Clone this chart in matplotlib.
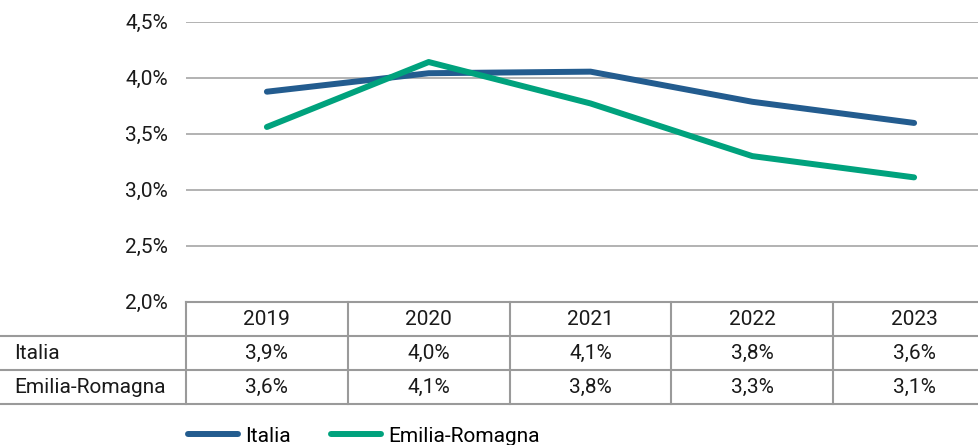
import matplotlib.pyplot as plt
from matplotlib.lines import Line2D

plt.rcParams['font.family'] = ['Roboto', 'DejaVu Sans']

years = ['2019', '2020', '2021', '2022', '2023']
italia = [3.875, 4.04, 4.054, 3.785, 3.596]
emilia = [3.56, 4.14, 3.77, 3.30, 3.11]
series_names = ['Italia', 'Emilia-Romagna']
yticks = [2.0, 2.5, 3.0, 3.5, 4.0, 4.5]

col_italia = '#235c8f'
col_emilia = '#00a27d'
grid_col = '#a6a6a6'
tab_col = '#9a9a9a'
fs = 15


def pct(v):
    return f'{v:.1f}%'.replace('.', ',')


fig = plt.figure(figsize=(9.79, 4.45), dpi=100)
W, H = 979, 445
ax = fig.add_axes([186 / W, 1 - 301.7 / H, 809 / W, 280 / H])

x = range(len(years))
ax.plot(x, italia, color=col_italia, lw=4.3, solid_capstyle='round', zorder=3)
ax.plot(x, emilia, color=col_emilia, lw=4.3, solid_capstyle='round', zorder=3)

ax.set_xlim(-0.5, len(years) - 0.5)
ax.set_ylim(2.0, 4.5)
ax.set_yticks(yticks)
ax.set_yticklabels([pct(t) for t in yticks], fontsize=fs, color='#1a1a1a')
ax.set_xticks([])
ax.tick_params(axis='y', length=0, pad=13)
for s in ax.spines.values():
    s.set_visible(False)
for t in yticks[1:]:
    ax.axhline(t, color=grid_col, lw=1.2, zorder=1)

# data table under the plot
tr = ax.get_xaxis_transform()
row_h = 34 / 280
x_left = (0 - 186) / 809 * 5 - 0.5
x_right = len(years) - 0.5
ax.plot([-0.5, x_right], [0, 0], transform=tr, color=tab_col, lw=1.5, clip_on=False)
for k in range(1, 4):
    ax.plot([x_left, x_right], [-k * row_h, -k * row_h], transform=tr,
            color=tab_col, lw=1.5, clip_on=False)
for i in range(len(years) + 1):
    ax.plot([i - 0.5, i - 0.5], [0, -3 * row_h], transform=tr,
            color=tab_col, lw=1.5, clip_on=False)

rows = [years, [pct(v) for v in italia], [pct(v) for v in emilia]]
for r, cells in enumerate(rows):
    yc = -(r + 0.5) * row_h - 0.004
    for i, txt in enumerate(cells):
        ax.text(i, yc, txt, transform=tr, ha='center', va='center',
                fontsize=fs, color='#1a1a1a', clip_on=False)
for r, name in enumerate(series_names):
    ax.text(x_left + 0.085, -(r + 1.5) * row_h - 0.004, name, transform=tr,
            ha='left', va='center', fontsize=fs, color='#1a1a1a', clip_on=False)

handles = [Line2D([], [], color=col_italia, lw=4.3, solid_capstyle='round'),
           Line2D([], [], color=col_emilia, lw=4.3, solid_capstyle='round')]
fig.legend(handles, series_names, loc='center left', bbox_to_anchor=(188 / W, 1 - 436 / H),
           ncol=2, frameon=False, fontsize=fs, handlelength=2.4, handletextpad=0.35,
           columnspacing=1.9, borderpad=0, borderaxespad=0)

fig.savefig('out.png', dpi=100)
